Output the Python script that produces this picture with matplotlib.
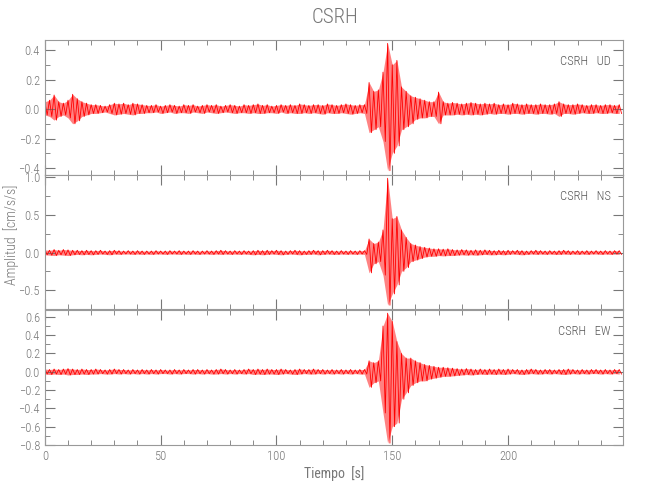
import numpy as np
import matplotlib
matplotlib.use('Agg')
import matplotlib.pyplot as plt
from matplotlib.ticker import MultipleLocator

# envelope of each trace in 2 s bins (t = 0, 2, ..., 248)
t = np.arange(0, 250, 2)

ud_hi = [0.05, 0.06, 0.095, 0.05, 0.04, 0.06, 0.10, 0.07, 0.05, 0.04, 0.03,
         0.03, 0.025, 0.02, 0.03, 0.04, 0.035, 0.04, 0.03, 0.04, 0.035, 0.03, 0.025,
         0.025, 0.03, 0.02, 0.025, 0.03, 0.025, 0.02, 0.03, 0.025, 0.03,
         0.02, 0.025, 0.03, 0.025, 0.03, 0.02, 0.025, 0.03, 0.025, 0.02,
         0.03, 0.025, 0.03, 0.035, 0.025, 0.03, 0.02, 0.025, 0.03, 0.025,
         0.03, 0.025, 0.035, 0.03, 0.025, 0.03, 0.03, 0.025, 0.035, 0.03,
         0.025, 0.03, 0.035, 0.03, 0.025, 0.03,
         0.03, 0.18, 0.12, 0.13, 0.25, 0.445, 0.30, 0.33, 0.15, 0.12,
         0.09, 0.08, 0.07, 0.06, 0.05, 0.05, 0.115, 0.05, 0.04, 0.045,
         0.04, 0.035, 0.04, 0.045, 0.04, 0.035, 0.04, 0.035, 0.04, 0.03,
         0.035, 0.03, 0.04, 0.035, 0.03, 0.035, 0.03, 0.03, 0.035, 0.03,
         0.03, 0.035, 0.05, 0.035, 0.03, 0.03, 0.035, 0.03, 0.025, 0.03,
         0.03, 0.025, 0.03, 0.03, 0.025, 0.03]
ud_lo = [-0.04, -0.05, -0.075, -0.05, -0.04, -0.06, -0.10, -0.08, -0.05, -0.04, -0.03,
         -0.03, -0.025, -0.02, -0.03, -0.04, -0.035, -0.03, -0.035, -0.04, -0.03, -0.03, -0.025,
         -0.025, -0.02, -0.03, -0.025, -0.02, -0.03, -0.025, -0.025, -0.03, -0.02,
         -0.025, -0.03, -0.02, -0.025, -0.03, -0.025, -0.02, -0.025, -0.03, -0.025,
         -0.025, -0.03, -0.025, -0.03, -0.03, -0.025, -0.025, -0.03, -0.02, -0.03,
         -0.025, -0.03, -0.03, -0.025, -0.03, -0.025, -0.03, -0.035, -0.025, -0.03,
         -0.03, -0.025, -0.03, -0.035, -0.03, -0.025,
         -0.03, -0.16, -0.14, -0.12, -0.22, -0.418, -0.30, -0.25, -0.14, -0.12,
         -0.10, -0.07, -0.06, -0.06, -0.05, -0.05, -0.10, -0.04, -0.04, -0.04,
         -0.035, -0.04, -0.035, -0.04, -0.035, -0.04, -0.035, -0.03, -0.035, -0.03,
         -0.03, -0.035, -0.03, -0.03, -0.035, -0.03, -0.03, -0.035, -0.03, -0.03,
         -0.035, -0.03, -0.05, -0.03, -0.03, -0.035, -0.03, -0.025, -0.03, -0.03,
         -0.025, -0.03, -0.03, -0.025, -0.03, -0.03]

ns_hi = [0.035, 0.03, 0.04, 0.03, 0.04, 0.035, 0.03, 0.03, 0.025, 0.03, 0.025,
         0.025, 0.03, 0.02, 0.025, 0.03, 0.025, 0.02, 0.025, 0.02, 0.025, 0.02, 0.02,
         0.02, 0.025, 0.02, 0.02, 0.025, 0.02, 0.025, 0.02, 0.02, 0.025,
         0.02, 0.02, 0.025, 0.02, 0.025, 0.03, 0.025, 0.02, 0.025, 0.02,
         0.025, 0.02, 0.025, 0.03, 0.025, 0.03, 0.025, 0.03, 0.025, 0.02,
         0.025, 0.03, 0.025, 0.02, 0.025, 0.03, 0.025, 0.025, 0.03, 0.025,
         0.02, 0.025, 0.02, 0.025, 0.02, 0.025,
         0.025, 0.18, 0.12, 0.14, 0.30, 0.987, 0.45, 0.48, 0.30, 0.20,
         0.12, 0.10, 0.08, 0.07, 0.06, 0.05, 0.05, 0.045, 0.05, 0.04,
         0.035, 0.04, 0.035, 0.03, 0.035, 0.03, 0.035, 0.03, 0.025, 0.03,
         0.025, 0.03, 0.025, 0.03, 0.025, 0.02, 0.025, 0.03, 0.025, 0.02,
         0.025, 0.02, 0.025, 0.03, 0.025, 0.02, 0.025, 0.02, 0.025, 0.02,
         0.025, 0.02, 0.025, 0.02, 0.025, 0.025]
ns_lo = [-0.03, -0.035, -0.04, -0.03, -0.035, -0.04, -0.03, -0.025, -0.03, -0.025, -0.03,
         -0.025, -0.02, -0.025, -0.03, -0.02, -0.025, -0.02, -0.02, -0.025, -0.02, -0.025, -0.02,
         -0.025, -0.02, -0.02, -0.025, -0.02, -0.02, -0.025, -0.02, -0.025, -0.02,
         -0.025, -0.02, -0.02, -0.025, -0.02, -0.025, -0.02, -0.025, -0.02, -0.025,
         -0.02, -0.025, -0.03, -0.025, -0.03, -0.025, -0.02, -0.025, -0.03, -0.025,
         -0.02, -0.025, -0.03, -0.025, -0.025, -0.02, -0.03, -0.025, -0.02, -0.025,
         -0.025, -0.02, -0.025, -0.02, -0.025, -0.02,
         -0.025, -0.27, -0.15, -0.12, -0.30, -0.70, -0.55, -0.43, -0.25, -0.20,
         -0.12, -0.10, -0.08, -0.06, -0.05, -0.05, -0.04, -0.045, -0.04, -0.04,
         -0.035, -0.03, -0.035, -0.03, -0.035, -0.03, -0.025, -0.03, -0.03, -0.025,
         -0.03, -0.025, -0.02, -0.025, -0.03, -0.025, -0.02, -0.025, -0.02, -0.025,
         -0.02, -0.025, -0.025, -0.02, -0.025, -0.02, -0.025, -0.02, -0.025, -0.02,
         -0.02, -0.025, -0.02, -0.025, -0.02, -0.025]

ew_hi = [0.03, 0.025, 0.03, 0.025, 0.03, 0.035, 0.03, 0.025, 0.03, 0.025, 0.025,
         0.03, 0.025, 0.02, 0.025, 0.03, 0.025, 0.025, 0.02, 0.025, 0.02, 0.025, 0.02,
         0.025, 0.02, 0.025, 0.02, 0.02, 0.025, 0.02, 0.025, 0.02, 0.025,
         0.025, 0.02, 0.025, 0.02, 0.025, 0.03, 0.025, 0.02, 0.025, 0.02,
         0.025, 0.03, 0.025, 0.03, 0.025, 0.03, 0.025, 0.025, 0.03, 0.025,
         0.02, 0.025, 0.03, 0.025, 0.025, 0.03, 0.025, 0.025, 0.02, 0.025,
         0.02, 0.025, 0.02, 0.025, 0.02, 0.025,
         0.025, 0.12, 0.10, 0.12, 0.50, 0.64, 0.55, 0.33, 0.20, 0.15,
         0.15, 0.12, 0.10, 0.08, 0.07, 0.06, 0.05, 0.05, 0.045, 0.04,
         0.035, 0.03, 0.035, 0.03, 0.025, 0.03, 0.025, 0.03, 0.025, 0.03,
         0.025, 0.03, 0.025, 0.025, 0.02, 0.025, 0.03, 0.025, 0.02, 0.025,
         0.025, 0.02, 0.025, 0.025, 0.03, 0.025, 0.02, 0.025, 0.02, 0.025,
         0.025, 0.02, 0.025, 0.02, 0.025, 0.025]
ew_lo = [-0.025, -0.03, -0.025, -0.03, -0.025, -0.035, -0.03, -0.03, -0.025, -0.03, -0.025,
         -0.025, -0.02, -0.025, -0.025, -0.02, -0.025, -0.02, -0.025, -0.02, -0.025, -0.02, -0.025,
         -0.02, -0.025, -0.02, -0.02, -0.025, -0.02, -0.025, -0.02, -0.02, -0.025,
         -0.02, -0.025, -0.02, -0.025, -0.025, -0.02, -0.025, -0.02, -0.025, -0.02,
         -0.025, -0.02, -0.03, -0.025, -0.03, -0.025, -0.025, -0.03, -0.025, -0.02,
         -0.025, -0.03, -0.025, -0.02, -0.025, -0.025, -0.02, -0.025, -0.02, -0.025,
         -0.02, -0.025, -0.02, -0.025, -0.02, -0.025,
         -0.025, -0.17, -0.12, -0.10, -0.45, -0.78, -0.60, -0.56, -0.30, -0.23,
         -0.15, -0.12, -0.10, -0.10, -0.08, -0.07, -0.06, -0.05, -0.05, -0.045,
         -0.04, -0.035, -0.03, -0.035, -0.03, -0.025, -0.03, -0.025, -0.03, -0.025,
         -0.03, -0.025, -0.02, -0.025, -0.03, -0.025, -0.02, -0.025, -0.025, -0.02,
         -0.025, -0.02, -0.025, -0.03, -0.025, -0.02, -0.025, -0.02, -0.025, -0.02,
         -0.02, -0.025, -0.02, -0.025, -0.02, -0.025]

station = 'CSRH'
components = ['UD', 'NS', 'EW']
traces = [(ud_hi, ud_lo), (ns_hi, ns_lo), (ew_hi, ew_lo)]
ylims = [(-0.447, 0.468), (-0.75, 1.03), (-0.80, 0.675)]
ymajor = [0.2, 0.5, 0.2]
yminor = [0.1, 0.25, 0.1]

plt.rcParams['font.family'] = ['Liberation Sans Narrow', 'Roboto Condensed', 'Roboto', 'DejaVu Sans']
plt.rcParams['font.weight'] = 'light'
gray = '#777777'
plt.rcParams['text.color'] = gray
plt.rcParams['axes.labelcolor'] = gray
plt.rcParams['xtick.color'] = gray
plt.rcParams['ytick.color'] = gray
plt.rcParams['axes.edgecolor'] = '#999999'

fig = plt.figure(figsize=(6.5, 5), dpi=100)
left, right = 0.069, 0.958
bottoms = [0.65, 0.382, 0.11]
heights = [0.27, 0.268, 0.27]

for k in range(3):
    ax = fig.add_axes([left, bottoms[k], right - left, heights[k]])
    hi, lo = traces[k]
    hi = np.array(hi)
    lo = np.array(lo)
    # reddish band between the envelopes, then a red zig-zag hitting the peaks
    ax.fill_between(t, lo, hi, color='#ff4040', alpha=0.65, lw=0)
    x = np.column_stack([t, t + 1]).ravel()
    y = np.column_stack([hi, lo]).ravel()
    ax.plot(x, y, color='red', lw=0.6)
    ax.set_xlim(0, 249.5)
    ax.set_ylim(*ylims[k])
    ax.xaxis.set_major_locator(MultipleLocator(50))
    ax.xaxis.set_minor_locator(MultipleLocator(10))
    ax.yaxis.set_major_locator(MultipleLocator(ymajor[k]))
    ax.yaxis.set_minor_locator(MultipleLocator(yminor[k]))
    ax.tick_params(which='both', direction='in', top=True, right=True, labelsize=9)
    ax.tick_params(which='major', length=7)
    ax.tick_params(which='minor', length=3.5)
    for s in ax.spines.values():
        s.set_linewidth(0.8)
    if k < 2:
        ax.set_xticklabels([])
    else:
        ax.set_xlabel('Tiempo  [s]', fontsize=10, labelpad=2, color=gray)
    ax.text(0.979, 0.84, station + '   ' + components[k], transform=ax.transAxes,
            ha='right', va='center', fontsize=9, color='#555555')

fig.text(0.515, 0.965, station, ha='center', va='center', fontsize=15, color=gray)
fig.text(0.017, 0.53, 'Amplitud  [cm/s/s]', rotation=90, ha='center', va='center',
         fontsize=10, color=gray)

fig.savefig('out.png', dpi=100)
